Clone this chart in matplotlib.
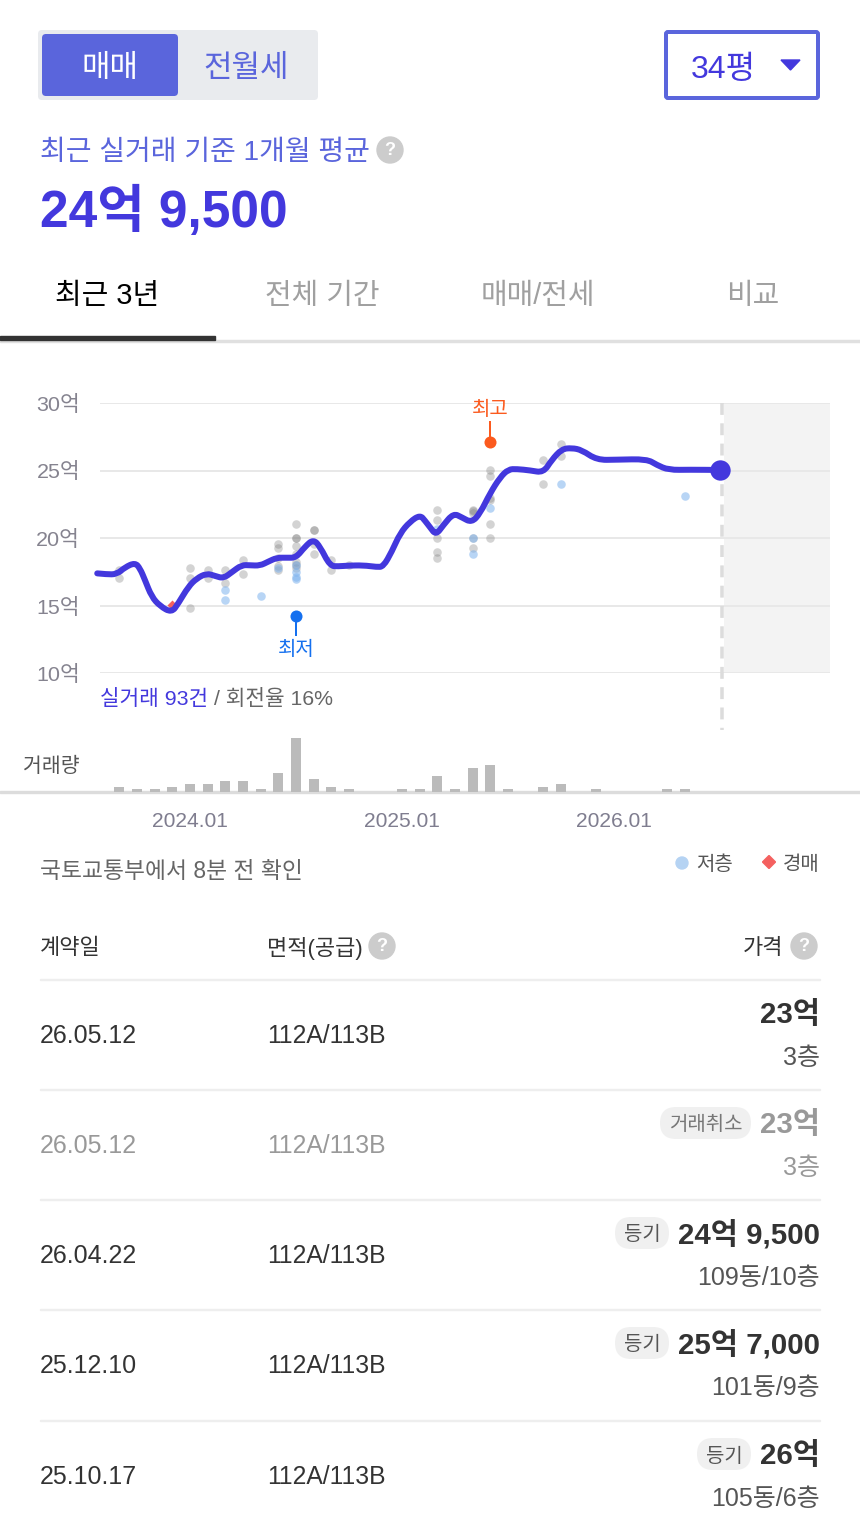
import matplotlib
matplotlib.use("Agg")
import matplotlib.pyplot as plt
from matplotlib.patches import FancyBboxPatch, Circle, Rectangle, Polygon, PathPatch
from matplotlib.path import Path
from matplotlib.transforms import ScaledTranslation

plt.rcParams['font.family'] = ['Liberation Sans', 'Noto Sans CJK KR', 'DejaVu Sans']

# average price line: months from 2024.01, price in eok
line_month = [-5.25, -4.72, -4.15, -3.68, -3.11, -2.83, -2.55, -2.17, -1.70, -1.04, -0.66, -0.09, 0.38, 0.94,
              1.42, 1.89, 2.36, 2.92, 3.40, 3.96, 4.43, 4.91, 5.47, 6.00, 6.51, 6.98, 7.36, 7.92, 8.40, 8.87,
              9.81, 10.57, 10.94, 11.42, 11.89, 12.45, 13.02, 13.30, 13.58, 13.92, 14.34, 14.91, 15.38, 15.94,
              16.42, 16.98, 17.55, 18.02, 18.49, 19.25, 20.00, 20.47, 21.04, 21.60, 22.17, 23.02, 24.15, 25.85,
              26.42, 27.08, 28.30, 30.00]
line_price = [17.38, 17.31, 17.31, 17.83, 18.17, 17.75, 16.89, 15.65, 14.96, 14.47, 15.16, 16.40, 17.01, 17.38,
              17.19, 17.01, 17.46, 18.00, 17.98, 17.95, 18.25, 18.54, 18.54, 18.54, 19.36, 19.90, 19.36, 17.93,
              17.90, 17.95, 17.98, 17.85, 17.88, 18.99, 20.35, 21.21, 21.70, 21.28, 20.80, 20.22, 20.96, 21.83,
              21.53, 21.14, 21.83, 23.31, 24.49, 25.09, 25.11, 25.01, 24.84, 25.78, 26.59, 26.67, 26.52, 25.78,
              25.80, 25.85, 25.41, 25.04, 25.06, 25.04]

# individual deals
deal_month = [-4, -4, 0, 0, 0, 1, 1, 2, 2, 3, 3, 5, 5, 5, 5, 5, 6, 6, 6, 6, 6, 6, 6, 6, 7, 7, 7, 7, 8, 8, 9,
              14, 14, 14, 14, 14, 16, 16, 16, 16, 16, 17, 17, 17, 17, 17, 17, 20, 20, 21, 21]
deal_price = [17.06, 17.63, 17.78, 17.04, 14.81, 17.63, 17.01, 17.63, 16.64, 18.37, 17.33, 19.56, 19.26, 18.49,
              17.93, 17.63, 21.04, 20.00, 20.00, 19.41, 18.81, 18.22, 18.00, 17.75, 20.59, 20.59, 19.56, 18.81,
              18.37, 17.63, 18.00, 22.07, 21.33, 19.98, 18.96, 18.52, 22.07, 22.02, 21.83, 19.98, 19.26, 25.04,
              24.59, 22.94, 22.81, 21.04, 20.00, 25.78, 24.00, 26.96, 26.07]
low_month = [2, 2, 4, 5, 6, 6, 6, 6, 14, 16, 16, 17, 21, 28]
low_price = [16.15, 15.41, 15.70, 17.78, 18.00, 17.50, 17.10, 17.00, 20.64, 19.98, 18.81, 22.22, 24.00, 23.11]
auction_month = [-1]
auction_price = [15.01]
high_point = (17, 27.1)
low_point = (6, 14.2)
last_point = (30, 25.04)

# monthly volume
vol_month = [-4, -3, -2, -1, 0, 1, 2, 3, 4, 5, 6, 7, 8, 9, 12, 13, 14, 15, 16, 17, 18, 20, 21, 23, 27, 28]
vol_count = [2, 1, 1, 2, 3, 3, 4, 4, 1, 7, 20, 5, 2, 1, 1, 1, 6, 1, 9, 10, 1, 2, 3, 1, 1, 1]

price_ticks = [10, 15, 20, 25, 30]
price_labels = ['10억', '15억', '20억', '25억', '30억']
date_ticks = [0, 12, 24]
date_labels = ['2024.01', '2025.01', '2026.01']

tabs = ['최근 3년', '전체 기간', '매매/전세', '비교']

row_dates = ['26.05.12', '26.05.12', '26.04.22', '25.12.10', '25.10.17']
row_prices = ['23억', '23억', '24억 9,500', '25억 7,000', '26억']
row_floors = ['3층', '3층', '109동/10층', '101동/9층', '105동/6층']
row_tags = ['', '거래취소', '등기', '등기', '등기']
row_lines = [979, 1089, 1199, 1309, 1420]

INDIGO = '#4338dd'
SOFT = '#5a65dc'
PX = 0.72  # one pixel in points at dpi 100


def txt(x, y, s, size, color, ha='left', weight='normal'):
    return bg.text(x, y, s, fontsize=size * PX, color=color, ha=ha, va='center', fontweight=weight)


def box(x0, y0, x1, y1, face, edge='none', lw=0, r=4):
    bg.add_patch(FancyBboxPatch((x0 + r, y0 + r), x1 - x0 - 2 * r, y1 - y0 - 2 * r,
                                boxstyle="round,pad=%d,rounding_size=%d" % (r, r),
                                facecolor=face, edgecolor=edge, linewidth=lw * PX))


def help_icon(x, y, r):
    bg.add_patch(Circle((x, y), r, color='#cccccc'))
    txt(x, y, '?', r * 1.4, 'white', ha='center', weight='bold')


# smooth path through the read points, the way the site's chart rounds its line
def smooth_path(xs, ys):
    verts = [(xs[0], ys[0])]
    codes = [Path.MOVETO]
    for i in range(1, len(xs) - 1):
        verts += [(xs[i], ys[i]), ((xs[i] + xs[i + 1]) / 2, (ys[i] + ys[i + 1]) / 2)]
        codes += [Path.CURVE3, Path.CURVE3]
    verts.append((xs[-1], ys[-1]))
    codes.append(Path.LINETO)
    return Path(verts, codes)


fig = plt.figure(figsize=(8.6, 15.3), dpi=100)
bg = fig.add_axes([0, 0, 1, 1])
bg.set_xlim(0, 860)
bg.set_ylim(1530, 0)
bg.axis('off')

# toggle and size select
box(38, 30, 318, 100, '#e9ebee')
box(42, 34, 178, 96, SOFT)
txt(110, 69, '매매', 31, 'white', ha='center')
txt(246, 69, '전월세', 31, SOFT, ha='center')
box(666, 32, 818, 98, 'white', edge=SOFT, lw=4, r=2)
txt(691, 70, '34평', 32, INDIGO)
bg.add_patch(Polygon([(781, 60), (800, 60), (790.5, 70)], color=INDIGO))

txt(40, 153, '최근 실거래 기준 1개월 평균', 28, SOFT)
help_icon(390, 150, 13)
txt(40, 212, '24억 9,500', 51.5, INDIGO, weight='bold')

# tabs
for i, name in enumerate(tabs):
    txt(107.5 + i * 215, 296, name, 29, 'black' if i == 0 else '#a0a0a0', ha='center')
bg.add_patch(Rectangle((0, 340), 860, 2, color='#e0e0e0'))
bg.add_patch(Rectangle((0, 336), 215, 4, color='#333333'))

# price chart
to_month = lambda px: (px - 190) / 17.67
ax = fig.add_axes([100 / 860, 1 - 673 / 1530, 730 / 860, 270 / 1530])
ax.patch.set_alpha(0)
ax.set_xlim(to_month(100), to_month(830))
ax.set_ylim(10, 30)
for s in ax.spines.values():
    s.set_visible(False)
ax.axvspan(to_month(724), to_month(830), color='#f3f3f3', lw=0, zorder=0)
ax.set_axisbelow(True)
ax.set_yticks(price_ticks)
ax.set_yticklabels(price_labels, fontsize=21.5 * PX, color='#85838f')
for lab in ax.get_yticklabels():
    lab.set_transform(lab.get_transform() + ScaledTranslation(0, 2 / 100, fig.dpi_scale_trans))
ax.set_xticks([])
ax.tick_params(axis='y', length=0, pad=20 * PX)
ax.grid(axis='y', color='#e8e8e8', lw=2 * PX)
ax.plot([to_month(722)] * 2, [30, 5.8], color='#dcdcdc', lw=3.5 * PX, ls=(0, (3.4, 2.4)), clip_on=False, zorder=1)

ax.scatter(deal_month, deal_price, s=38, color='#777777', alpha=0.32, lw=0, zorder=2)
ax.scatter(low_month, low_price, s=38, color='#7fb3ee', alpha=0.55, lw=0, zorder=2)
ax.scatter(auction_month, auction_price, s=26, marker='D', color='#f4605f', lw=0, zorder=2)
ax.add_patch(PathPatch(smooth_path(line_month, line_price), facecolor='none', edgecolor=INDIGO, lw=6 * PX,
                       capstyle='round', joinstyle='round', clip_on=False, zorder=3))
ax.scatter(*last_point, s=215, color=INDIGO, lw=0, zorder=4, clip_on=False)

ax.plot([high_point[0]] * 2, [high_point[1], 28.6], color='#fb5a1e', lw=2 * PX, zorder=4)
ax.scatter(*high_point, s=75, color='#fb5a1e', lw=0, zorder=4)
ax.text(high_point[0], 29.55, '최고', fontsize=20 * PX, color='#fb5a1e', ha='center', va='center')
ax.plot([low_point[0]] * 2, [low_point[1], 12.8], color='#1570ef', lw=2 * PX, zorder=4)
ax.scatter(*low_point, s=75, color='#1570ef', lw=0, zorder=4)
ax.text(low_point[0], 11.75, '최저', fontsize=20 * PX, color='#1570ef', ha='center', va='center')

t = txt(100, 699, '실거래 93건', 21.3, INDIGO)
fig.canvas.draw()
end = t.get_window_extent().x1
txt(end + 6, 699, '/ 회전율 16%', 21.3, '#666666')

# volume bars
vax = fig.add_axes([100 / 860, 1 - 792 / 1530, 730 / 860, 54 / 1530])
vax.patch.set_alpha(0)
vax.set_xlim(to_month(100), to_month(830))
vax.set_ylim(0, 20)
vax.bar(vol_month, vol_count, width=10 / 17.67, color='#bbbbbb', lw=0)
for s in vax.spines.values():
    s.set_visible(False)
vax.set_yticks([])
vax.set_xticks(date_ticks)
vax.set_xticklabels(date_labels, fontsize=21 * PX, color='#7f7d8f')
vax.tick_params(axis='x', length=0, pad=20 * PX)
txt(23, 766, '거래량', 20.5, '#555555')
bg.add_patch(Rectangle((0, 791), 860, 2, color='#dcdcdc'))

# note and legend
txt(40, 871, '국토교통부에서 8분 전 확인', 22.8, '#666666')
bg.add_patch(Circle((682, 863), 6, color='#b5d3f3'))
txt(696, 864, '저층', 20, '#555555')
bg.add_patch(Polygon([(769, 855.5), (775.5, 862), (769, 868.5), (762.5, 862)], color='#f4605f'))
txt(783, 864, '경매', 20, '#555555')

# deal table
txt(40, 948, '계약일', 22, '#333333')
txt(267, 948, '면적(공급)', 22, '#333333')
help_icon(382, 946, 13)
txt(783, 948, '가격', 22, '#333333', ha='right')
help_icon(804, 946, 13)

for i, top in enumerate(row_lines):
    bg.add_patch(Rectangle((40, top - 0.5), 780, 1, color='#eeeeee'))
    muted = row_tags[i] == '거래취소'
    main = '#999999' if muted else '#333333'
    txt(40, top + 57, row_dates[i], 25, main)
    txt(267, top + 57, '112A/113B', 24.6, main)
    p = txt(820, top + 36, row_prices[i], 29.5, '#999999' if muted else '#333333', ha='right', weight='bold')
    txt(820, top + 79, row_floors[i], 25, '#999999' if muted else '#555555', ha='right')
    if row_tags[i]:
        fig.canvas.draw()
        left = p.get_window_extent().x0
        w = 91 if muted else 54
        box(left - 9 - w, top + 18, left - 9, top + 50, '#f0f0f0', r=16)
        txt(left - 9 - w / 2, top + 36, row_tags[i], 20, '#777777' if muted else '#555555', ha='center')

fig.savefig('out.png', dpi=100, facecolor='white')
